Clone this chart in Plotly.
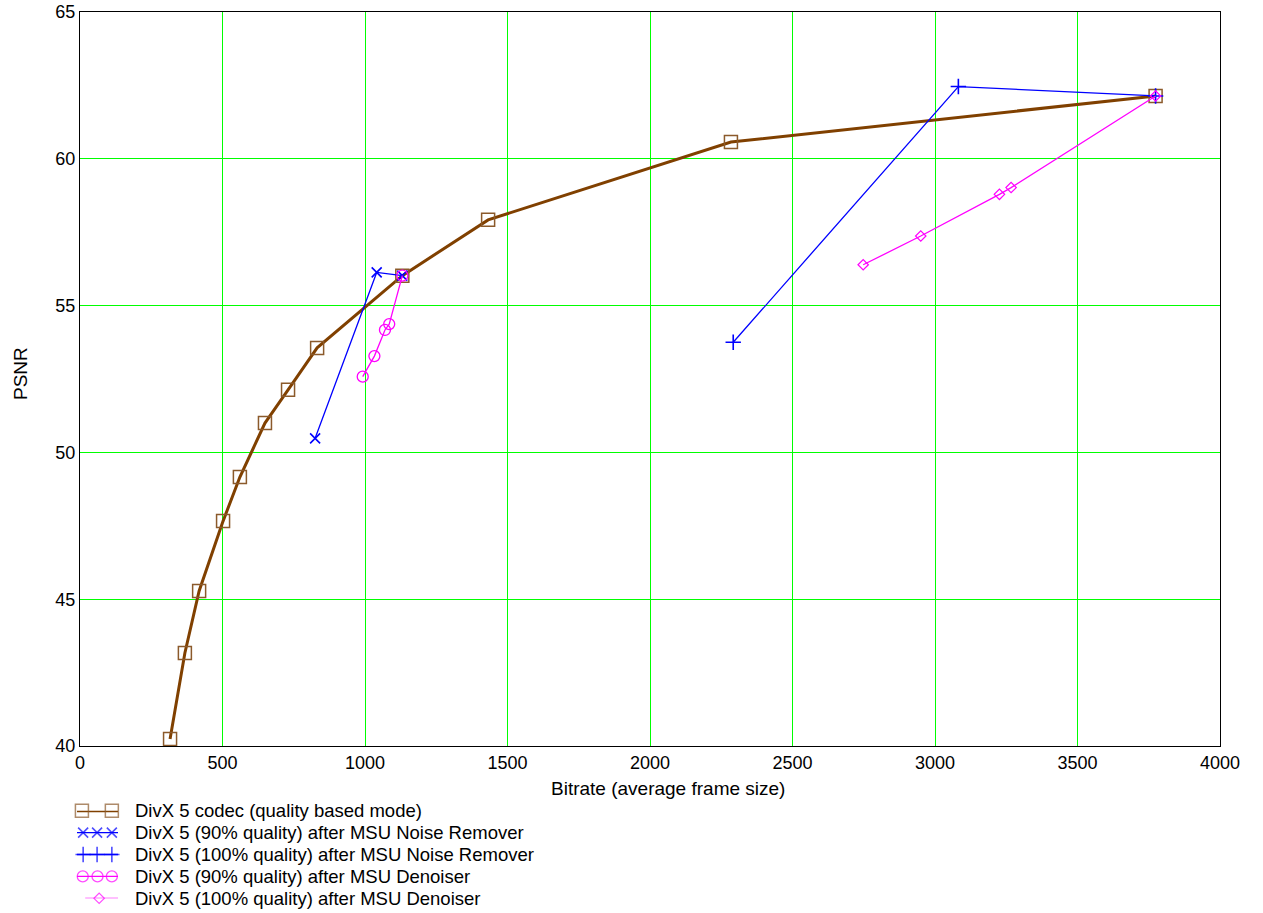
import plotly.graph_objects as go

# Rate-distortion data: bitrate (average frame size) vs PSNR
divx_bitrate = [316, 368, 418, 502, 561, 649, 730, 832, 1131, 1432, 2284, 3774]
divx_psnr = [40.24, 43.17, 45.28, 47.66, 49.16, 51.0, 52.13, 53.56, 56.02, 57.92, 60.57, 62.14]

nr90_bitrate = [825, 1041, 1131]
nr90_psnr = [50.48, 56.13, 56.02]

nr100_bitrate = [2292, 3082, 3774]
nr100_psnr = [53.75, 62.46, 62.14]

dn90_bitrate = [992, 1033, 1070, 1085, 1131]
dn90_psnr = [52.58, 53.28, 54.17, 54.37, 56.02]

dn100_bitrate = [2748, 2950, 3226, 3267, 3774]
dn100_psnr = [56.39, 57.37, 58.79, 59.02, 62.14]

series_names = [
    "DivX 5 codec (quality based mode)",
    "DivX 5 (90% quality) after MSU Noise Remover",
    "DivX 5 (100% quality) after MSU Noise Remover",
    "DivX 5 (90% quality) after MSU Denoiser",
    "DivX 5 (100% quality) after MSU Denoiser",
]

x_ticks = [0, 500, 1000, 1500, 2000, 2500, 3000, 3500, 4000]
y_ticks = [40, 45, 50, 55, 60, 65]
x_title = "Bitrate (average frame size)"
y_title = "PSNR"

FONT = "Liberation Sans, Arial, sans-serif"
BROWN = "#804000"
SQUARE_EDGE = "#8B5A2B"
BLUE = "#0000FF"
MAGENTA = "#FF00FF"

W, H = 1263, 913
M_R, M_T = 43, 12
PAPER_W = W - M_R
PAPER_H = H - M_T


def px_x(px):
    return px / PAPER_W


def px_y(py):
    return (H - py) / PAPER_H


# per-series styles: line colour/width, marker symbol/size/colour
styles = [
    dict(line=dict(color=BROWN, width=3),
         marker=dict(symbol="square-open", size=13, color=SQUARE_EDGE, line=dict(width=1.5))),
    dict(line=dict(color=BLUE, width=1.3),
         marker=dict(symbol="x-thin-open", size=10, color=BLUE, line=dict(width=1.6, color=BLUE))),
    dict(line=dict(color=BLUE, width=1.3),
         marker=dict(symbol="cross-thin-open", size=11, color=BLUE, line=dict(width=1.6, color=BLUE))),
    dict(line=dict(color=MAGENTA, width=1.3),
         marker=dict(symbol="circle-open", size=11, color=MAGENTA, line=dict(width=1.3))),
    dict(line=dict(color=MAGENTA, width=1.3),
         marker=dict(symbol="diamond-open", size=8, color=MAGENTA, line=dict(width=1.2))),
]

data = [
    (divx_bitrate, divx_psnr),
    (nr90_bitrate, nr90_psnr),
    (nr100_bitrate, nr100_psnr),
    (dn90_bitrate, dn90_psnr),
    (dn100_bitrate, dn100_psnr),
]

fig = go.Figure()

for (bx, by), name, st in zip(data, series_names, styles):
    fig.add_trace(go.Scatter(
        x=bx, y=by, mode="lines+markers", name=name, showlegend=False,
        line=st["line"], marker=st["marker"], xaxis="x", yaxis="y",
    ))

# Legend glyphs: a short line with sample markers, drawn on a small helper axis
glyph_points = [
    ([0.0, 0.12, 0.85, 1.0], [0, 1, 1, 0]),
    ([0.0, 0.15, 0.49, 0.85, 1.0], [0, 1, 1, 1, 0]),
    ([0.0, 0.15, 0.49, 0.85, 1.0], [0, 1, 1, 1, 0]),
    ([0.0, 0.14, 0.5, 0.85, 1.0], [0, 1, 1, 1, 0]),
    ([0.2, 0.54, 1.0], [0, 1, 0]),
]
for row, ((gx, show), st) in enumerate(zip(glyph_points, styles)):
    marker = dict(st["marker"])
    marker["size"] = [st["marker"]["size"] * s for s in show]
    fig.add_trace(go.Scatter(
        x=gx, y=[row] * len(gx), mode="lines+markers", showlegend=False,
        line=st["line"], marker=marker, xaxis="x2", yaxis="y2",
        cliponaxis=False, hoverinfo="skip",
    ))

# legend text rows
row_top_px, row_bottom_px = 810.7, 898.3
for row, name in enumerate(series_names):
    ypx = row_top_px + row * (row_bottom_px - row_top_px) / 4
    fig.add_annotation(
        text=name, xref="paper", yref="paper",
        x=px_x(133), y=px_y(ypx),
        xanchor="left", yanchor="middle", showarrow=False,
        font=dict(family=FONT, size=18.5, color="black"),
    )

# axis titles
fig.add_annotation(
    text=x_title, xref="paper", yref="paper", x=px_x(668), y=px_y(788),
    xanchor="center", yanchor="middle", showarrow=False,
    font=dict(family=FONT, size=19, color="black"),
)
fig.add_annotation(
    text=y_title, xref="paper", yref="paper", x=px_x(20), y=px_y(374),
    xanchor="center", yanchor="middle", showarrow=False, textangle=-90,
    font=dict(family=FONT, size=19, color="black"),
)

fig.update_layout(
    width=W, height=H,
    margin=dict(l=0, r=M_R, t=M_T, b=0, autoexpand=False),
    paper_bgcolor="white", plot_bgcolor="white",
    font=dict(family=FONT, size=16, color="black"),
    showlegend=False,
    xaxis=dict(
        domain=[px_x(80), 1.0], anchor="y", automargin=False,
        range=[0, 4000], tickvals=x_ticks, ticktext=[str(v) for v in x_ticks],
        tickfont=dict(family=FONT, size=18),
        showgrid=True, gridcolor="#00FF00", gridwidth=1,
        showline=True, linecolor="black", linewidth=1, mirror=True,
        zeroline=False, ticks="",
    ),
    yaxis=dict(
        domain=[px_y(746), 1.0], anchor="x", automargin=False,
        range=[40, 65], tickvals=y_ticks, ticktext=[str(v) for v in y_ticks],
        tickfont=dict(family=FONT, size=18),
        showgrid=True, gridcolor="#00FF00", gridwidth=1,
        showline=True, linecolor="black", linewidth=1, mirror=True,
        zeroline=False, ticks="",
    ),
    xaxis2=dict(
        domain=[px_x(77), px_x(118)], anchor="y2", range=[0, 1],
        visible=False, fixedrange=True,
    ),
    yaxis2=dict(
        domain=[px_y(row_bottom_px), px_y(row_top_px)], anchor="x2",
        range=[4, 0], visible=False, fixedrange=True,
    ),
)

fig.write_html("out.html")
